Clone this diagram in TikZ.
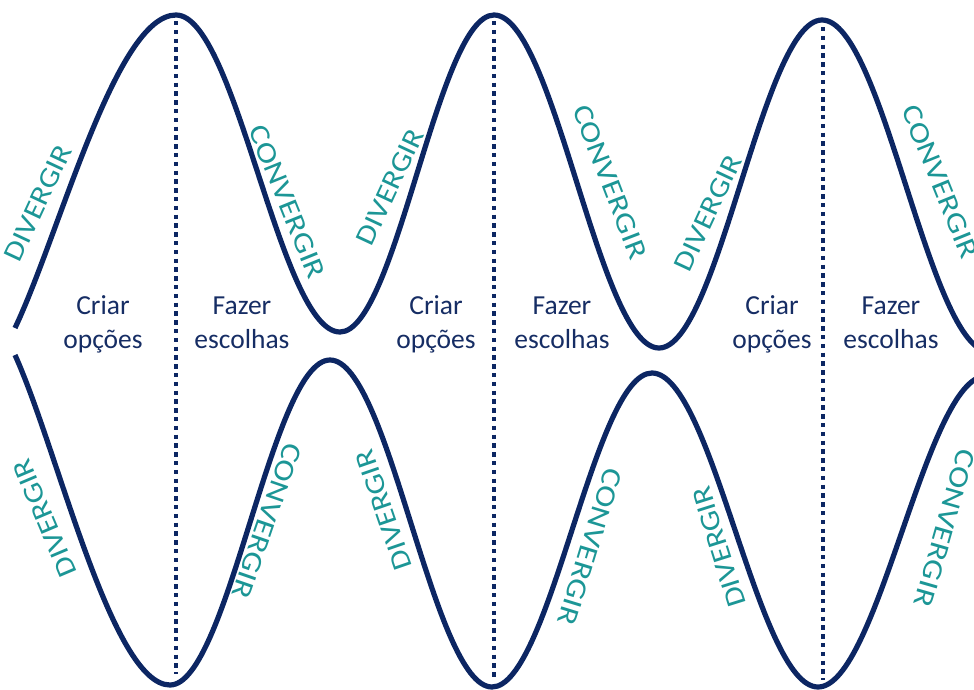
\documentclass[tikz,border=0pt]{standalone}
\usepackage{fontspec}
\setmainfont{Carlito}
\usepackage{graphicx}
\definecolor{navy}{RGB}{12,38,99}
\definecolor{tealtxt}{RGB}{28,150,150}
\definecolor{txtblue}{RGB}{22,45,100}
\newcommand{\widediv}[1]{\scalebox{1.15}[1]{#1}}
\newcommand{\widecon}[1]{\scalebox{1.2}[1]{#1}}
\begin{document}
\begin{tikzpicture}[x=1pt,y=-1pt,
  wave/.style={draw=navy,line width=5.2pt},
  divider/.style={draw=navy,line width=4pt,dash pattern=on 4.4pt off 4.4pt},
  phase/.style={text=txtblue,font=\fontsize{27.5}{33}\selectfont,anchor=base,inner sep=0pt},
  verb/.style={text=tealtxt,font=\fontsize{28}{30}\selectfont,inner sep=0pt}]
\useasboundingbox (0,0) rectangle (974,690);
\clip (0,0) rectangle (974,690);

% top wave
\coordinate (t0) at (15,328);
\coordinate (t1) at (176,15);
\coordinate (t2) at (340,332);
\coordinate (t3) at (494,15);
\coordinate (t4) at (659,348);
\coordinate (t5) at (822,20);
\coordinate (t6) at (990,352);
\draw[wave] (t0) .. controls (60,233) and (116,15) .. (t1)
  .. controls (236,15) and (280,332) .. (t2)
  .. controls (396,332) and (438,15) .. (t3)
  .. controls (554,15) and (599,348) .. (t4)
  .. controls (718,348) and (763,20) .. (t5)
  .. controls (883,20) and (929,352) .. (t6);

% bottom wave
\coordinate (b0) at (15,355);
\coordinate (b1) at (170,685);
\coordinate (b2) at (330,360);
\coordinate (b3) at (492,687);
\coordinate (b4) at (652,373);
\coordinate (b5) at (818,687);
\coordinate (b6) at (986,376);
\draw[wave] (b0) .. controls (58,450) and (112,685) .. (b1)
  .. controls (228,685) and (272,360) .. (b2)
  .. controls (389,360) and (433,687) .. (b3)
  .. controls (550,687) and (594,373) .. (b4)
  .. controls (712,373) and (758,687) .. (b5)
  .. controls (878,687) and (926,376) .. (b6);

% dividers
\coordinate (d1a) at (176,21); \coordinate (d1b) at (176,674);
\coordinate (d2a) at (494,21); \coordinate (d2b) at (494,677);
\coordinate (d3a) at (823,27); \coordinate (d3b) at (823,680);
\draw[divider] (d1a) -- (d1b);
\draw[divider] (d2a) -- (d2b);
\draw[divider] (d3a) -- (d3b);

% phase texts
\node[phase] (c1a) at (103,314) {Criar};
\node[phase] (c1b) at (103,348) {opções};
\node[phase] (f1a) at (242,314) {Fazer};
\node[phase] (f1b) at (242,348) {escolhas};
\node[phase] (c2a) at (436,314) {Criar};
\node[phase] (c2b) at (436,348) {opções};
\node[phase] (f2a) at (562,314) {Fazer};
\node[phase] (f2b) at (562,348) {escolhas};
\node[phase] (c3a) at (772,314) {Criar};
\node[phase] (c3b) at (772,348) {opções};
\node[phase] (f3a) at (891,314) {Fazer};
\node[phase] (f3b) at (891,348) {escolhas};

% top labels
\node[verb,rotate=65]  (td1) at (38,203)  {\widediv{DIVERGIR}};
\node[verb,rotate=-68] (tc1) at (287,202) {\widecon{CONVERGIR}};
\node[verb,rotate=65]  (td2) at (390,187) {\widediv{DIVERGIR}};
\node[verb,rotate=-69] (tc2) at (610,182) {\widecon{CONVERGIR}};
\node[verb,rotate=65]  (td3) at (708,213) {\widediv{DIVERGIR}};
\node[verb,rotate=-68] (tc3) at (940,182) {\widecon{CONVERGIR}};

% bottom labels
\node[verb,rotate=113]  (bd1) at (45,518)  {\widediv{DIVERGIR}};
\node[verb,rotate=-109] (bc1) at (267,521) {\widecon{CONVERGIR}};
\node[verb,rotate=109]  (bd2) at (384,510) {\widediv{DIVERGIR}};
\node[verb,rotate=-107] (bc2) at (590,547) {\widecon{CONVERGIR}};
\node[verb,rotate=107.5] (bd3) at (719,547) {\widediv{DIVERGIR}};
\node[verb,rotate=-106] (bc3) at (945,528) {\widecon{CONVERGIR}};
\end{tikzpicture}
\end{document}
